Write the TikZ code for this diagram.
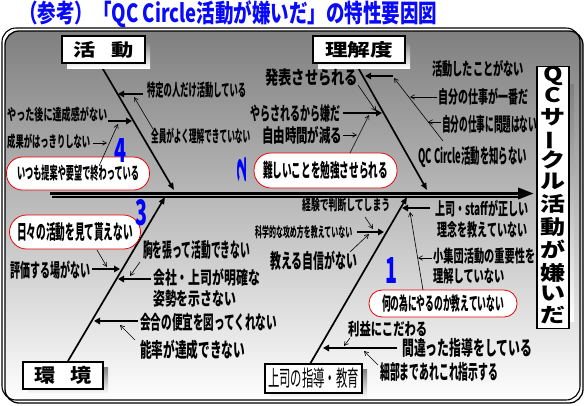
\documentclass[tikz,border=0pt]{standalone}
\usepackage{fontspec}
\usepackage{graphicx}
\setmainfont{Noto Sans CJK JP}
\usetikzlibrary{arrows.meta}
\definecolor{ttlblue}{RGB}{10,10,250}
\definecolor{numblue}{RGB}{0,0,255}
\definecolor{shade}{RGB}{165,165,165}
\definecolor{ovalred}{RGB}{235,0,0}
% #1 font size, #2 target width (pt), #3 text
\newcommand\jt[3]{{\fontsize{#1}{#1}\selectfont\bfseries\resizebox{#2pt}{\height}{#3}}}
% #1 font size, #2 line skip, #3 width, #4 lines
\newcommand\jtt[4]{{\fontsize{#1}{#2}\selectfont\bfseries\resizebox{#3pt}{\height}{\begin{tabular}{@{}l@{}}#4\end{tabular}}}}
\begin{document}
\begin{tikzpicture}[x=1pt,y=-1pt,
  lbl/.style={inner sep=0pt, anchor=west},
  bonearr/.style={line width=1.7pt, -{Triangle[length=7pt,width=5.5pt]}},
  tarr/.style={line width=2.3pt, -{Triangle[length=6pt,width=6.5pt]}},
  farr/.style={line width=0.6pt, -{Straight Barb[length=4pt,width=4.5pt]}},
  catbox/.style={draw, line width=1.1pt, fill=white, inner sep=0pt},
  ovalbox/.style={draw=ovalred, line width=0.8pt, fill=white, inner sep=0pt},
  numtxt/.style={inner sep=0pt, text=numblue}]
\useasboundingbox (0,0) rectangle (585,405);
\fill[white] (0,0) rectangle (585,405);

% title
\node[lbl, text=ttlblue] (title) at (19,14) {\jt{25}{418}{（参考）「QC Circle活動が嫌いだ」の特性要因図}};

% frame
\draw[shade, line width=1.3pt, rounded corners=14pt] (5,31) rectangle (583,403);
\draw[line width=1.1pt, rounded corners=14pt] (2,28) rectangle (580,400);

% spine
\coordinate (sp0) at (50,193.5);
\coordinate (sp1) at (534,193.5);
\draw[shade, line width=2pt] (52,196.8) -- (520,196.8);
\draw[line width=3.5pt, -{Triangle[length=16pt,width=11pt]}] (sp0) -- (sp1);

% main bones
\coordinate (b1a) at (100,64);  \coordinate (b1b) at (174,190);
\coordinate (b2a) at (356,64);  \coordinate (b2b) at (427,190);
\coordinate (b3a) at (68,361);  \coordinate (b3b) at (165,197);
\coordinate (b4a) at (310,364); \coordinate (b4b) at (407,197);
\draw[bonearr] (b1a) -- (b1b);
\draw[bonearr] (b2a) -- (b2b);
\draw[bonearr] (b3a) -- (b3b);
\draw[bonearr] (b4a) -- (b4b);

% category boxes with shadows
\fill[shade] (67,41) rectangle (150,68);
\node[catbox, minimum width=83pt, minimum height=27pt] (cat1) at (103.5,49.5) {\jt{17.5}{60}{活\hspace{0.7em}動}};
\fill[shade] (318,41) rectangle (410,68);
\node[catbox, minimum width=92pt, minimum height=27pt] (cat2) at (359,49.5) {\jt{17.5}{68}{理解度}};
\fill[shade] (28,367) rectangle (108,394);
\node[catbox, minimum width=80pt, minimum height=27pt] (cat3) at (63,375.5) {\jt{19}{57}{環\hspace{0.7em}境}};
\fill[shade] (270,369) rectangle (367,398);
\node[catbox, minimum width=97pt, minimum height=29pt] (cat4) at (313.5,378.5) {{\fontsize{22}{22}\selectfont\resizebox{91pt}{\height}{上司の指導・教育}}};

% effect box
\fill[shade] (542,84) rectangle (574,321);
\node[catbox, minimum width=32pt, minimum height=237pt] (eff) at (553,197.5)
  {{\fontsize{20}{19.1}\selectfont\bfseries\resizebox{25pt}{\height}{\begin{tabular}{@{}c@{}}Q\\C\\サ\\\rotatebox[origin=c]{90}{ー}\\ク\\ル\\活\\動\\が\\嫌\\い\\だ\end{tabular}}}};

% ---------- 活動 ----------
\node[lbl] (l1) at (147,90.5) {\jt{17}{99}{特定の人だけ活動している}};
\node[lbl] (l2) at (151,136) {\jt{16.5}{99}{全員がよく理解できていない}};
\node[lbl] (l3) at (7,115) {\jt{15.5}{100}{やった後に達成感がない}};
\node[lbl] (l4) at (7,142) {\jt{15.5}{83}{成果がはっきりしない}};
\node[ovalbox, minimum width=143pt, minimum height=33pt, rounded corners=16pt] (o4) at (78,173.5) {\jt{17}{122}{いつも提案や要望で終わっている}};
\node[numtxt] (n4) at (120,150) {\fontsize{28}{28}\selectfont\bfseries\resizebox{12pt}{24pt}{4}};

\coordinate (k1a) at (143,94);  \coordinate (k1b) at (118,94);
\coordinate (k2a) at (108,121); \coordinate (k2b) at (132,121);
\draw[tarr] (k1a) -- (k1b);
\draw[tarr] (k2a) -- (k2b);
\coordinate (f1a) at (153,129); \coordinate (f1b) at (134,97);
\coordinate (f2a) at (93,143);  \coordinate (f2b) at (107,143);
\coordinate (f3a) at (99,166);  \coordinate (f3b) at (118,124);
\draw[farr] (f1a) -- (f1b);
\draw[farr] (f2a) -- (f2b);
\draw[farr] (f3a) -- (f3b);

% ---------- 理解度 ----------
\node[lbl] (l6) at (265,78) {\jt{18.5}{93}{発表させられる}};
\node[lbl] (l7) at (250,113) {\jt{18.5}{90}{やらされるから嫌だ}};
\node[lbl] (l8) at (262,135) {\jt{18.5}{80}{自由時間が減る}};
\node[ovalbox, minimum width=143pt, minimum height=35pt, rounded corners=17pt] (o2) at (325.5,170.5) {\jt{19}{125}{難しいことを勉強させられる}};
\node[numtxt, rotate=90] (n2) at (241.5,169) {\fontsize{28}{28}\selectfont\bfseries\resizebox{28pt}{9pt}{2}};
\node[lbl] (l10) at (432,69) {\jt{17.5}{92}{活動したことがない}};
\node[lbl] (l11) at (438,97) {\jt{17.5}{90}{自分の仕事が一番だ}};
\node[lbl] (l12) at (442,124) {\jt{19}{95}{自分の仕事に問題はない}};
\node[lbl] (l13) at (418,157) {\jt{20}{109}{QC Circle活動を知らない}};

\coordinate (k3a) at (393,76);  \coordinate (k3b) at (365,76);
\coordinate (k4a) at (343,113); \coordinate (k4b) at (382,113);
\draw[tarr] (k3a) -- (k3b);
\draw[tarr] (k4a) -- (k4b);
\coordinate (f4a) at (358,85);  \coordinate (f4b) at (376,111);
\coordinate (f5a) at (350,153); \coordinate (f5b) at (369,115);
\coordinate (f6a) at (343,135); \coordinate (f6b) at (357,135);
\coordinate (f7a) at (443,141); \coordinate (f7b) at (394,78);
\coordinate (f8a) at (437,97);  \coordinate (f8b) at (410,97);
\coordinate (f9a) at (441,122); \coordinate (f9b) at (428,122);
\draw[farr] (f4a) -- (f4b);
\draw[farr] (f5a) -- (f5b);
\draw[farr] (f6a) -- (f6b);
\draw[farr] (f7a) -- (f7b);
\draw[farr] (f8a) -- (f8b);
\draw[farr] (f9a) -- (f9b);

% ---------- 上司の指導・教育 ----------
\node[lbl] (l14) at (435,221.5) {\jtt{17.5}{21}{93}{上司・staffが正しい\\\ 理念を教えていない}};
\node[lbl] (l15) at (433,268) {\jtt{17}{20}{102}{小集団活動の重要性を\\理解していない}};
\node[ovalbox, minimum width=148pt, minimum height=27pt, rounded corners=13pt] (o1) at (443,303.5) {\jt{18.5}{122}{何の為にやるのか教えていない}};
\node[numtxt] (n1) at (391,270) {\fontsize{28}{28}\selectfont\bfseries\resizebox{12pt}{26pt}{1}};
\node[lbl] (l17) at (302,205) {\jt{14.5}{88}{経験で判断してしまう}};
\node[lbl] (l18) at (255,232) {\jt{14}{97}{科学的な攻め方を教えていない}};
\node[lbl] (l19) at (270,261) {\jt{20}{87}{教える自信がない}};
\node[lbl] (l20) at (348,329) {\jt{17}{79}{利益にこだわる}};
\node[lbl] (l21) at (402,348) {\jt{20}{130}{間違った指導をしている}};
\node[lbl] (l22) at (380,372) {\jt{20}{118}{細部まであれこれ指示する}};

\coordinate (k5a) at (430,208); \coordinate (k5b) at (402,208);
\coordinate (k6a) at (357,232); \coordinate (k6b) at (384,232);
\coordinate (k7a) at (397,348); \coordinate (k7b) at (323,348);
\draw[tarr] (k5a) -- (k5b);
\draw[tarr] (k6a) -- (k6b);
\draw[tarr] (k7a) -- (k7b);
\coordinate (f10a) at (423,290); \coordinate (f10b) at (410,212);
\coordinate (f11a) at (432,258); \coordinate (f11b) at (418,258);
\coordinate (f12a) at (365,217); \coordinate (f12b) at (373,229);
\coordinate (f13a) at (350,252); \coordinate (f13b) at (369,234);
\coordinate (f14a) at (350,338); \coordinate (f14b) at (344,346);
\coordinate (f15a) at (378,365); \coordinate (f15b) at (364,351);
\draw[farr] (f10a) -- (f10b);
\draw[farr] (f11a) -- (f11b);
\draw[farr] (f12a) -- (f12b);
\draw[farr] (f13a) -- (f13b);
\draw[farr] (f14a) -- (f14b);
\draw[farr] (f15a) -- (f15b);

% ---------- 環境 ----------
\node[ovalbox, minimum width=131pt, minimum height=34pt, rounded corners=17pt] (o3) at (75,232) {\jt{20}{116}{日々の活動を見て貰えない}};
\node[numtxt] (n3) at (141,213) {\fontsize{28}{28}\selectfont\bfseries\resizebox{12pt}{26pt}{3}};
\node[lbl] (l24) at (10,270) {\jt{19}{80}{評価する場がない}};
\node[lbl] (l25) at (143,250) {\jt{20}{107}{胸を張って活動できない}};
\node[lbl] (l26) at (153,289.5) {\jtt{18}{19}{107}{会社・上司が明確な\\姿勢を示さない}};
\node[lbl] (l27) at (140,322) {\jt{19}{137}{会合の便宜を図ってくれない}};
\node[lbl] (l28) at (140,350) {\jt{20}{105}{能率が達成できない}};

\coordinate (k8a) at (92,269);  \coordinate (k8b) at (120,269);
\coordinate (k9a) at (151,279); \coordinate (k9b) at (118,279);
\coordinate (k10a) at (138,321); \coordinate (k10b) at (94,321);
\draw[tarr] (k8a) -- (k8b);
\draw[tarr] (k9a) -- (k9b);
\draw[tarr] (k10a) -- (k10b);
\coordinate (f16a) at (97,250);  \coordinate (f16b) at (107,267);
\coordinate (f17a) at (140,262); \coordinate (f17b) at (130,276);
\coordinate (f18a) at (135,340); \coordinate (f18b) at (120,325);
\draw[farr] (f16a) -- (f16b);
\draw[farr] (f17a) -- (f17b);
\draw[farr] (f18a) -- (f18b);
\end{tikzpicture}
\end{document}
